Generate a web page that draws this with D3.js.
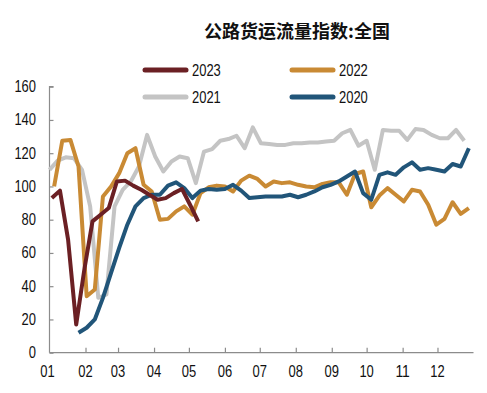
<!DOCTYPE html>
<html><head><meta charset="utf-8">
<script src="https://cdn.jsdelivr.net/npm/d3@7"></script>
<style>body{margin:0;background:#fff} svg{display:block}</style>
</head><body>
<svg id="c" width="487" height="393"></svg>
<script>
const title = "公路货运流量指数:全国";
const monthLabels = ["01","02","03","04","05","06","07","08","09","10","11","12"];
const yTicks = [0,20,40,60,80,100,120,140,160];
const seriesNames = ["2023","2022","2021","2020"];
const seriesColors = ["#6B2024","#C98A34","#C4C4C4","#215579"];
// first weekly observation (month-day) of each series
const seriesStarts = ["01-03","01-05","01-01","01-26"];
const values2023 = [93,97.5,68,17,50,79,83,87,103,103.5,100.5,98,95,92,93,96,98.5,89,79];
const values2022 = [100,127.5,128,112,34,38,94,100,108,120,123,101,97,80,80.5,85,88,83,96,99.5,100.5,100,97,103.5,106.5,104.5,100,103,102,102.5,101,100,99.5,101.5,102.5,102.5,95,107.5,109,87.5,94.5,99,95,91,98,97,89,77,80.5,90.5,83.5,87];
const values2021 = [110,115.5,117.5,117,110,88,33,35,88,98,103,112,131,118,109,115,118,117,102,121,122.5,127.5,128.5,130.5,123,135.5,126,125.5,125,125,126,126,126.5,126.5,127,127.5,132,134,124.5,127.5,110,134,133.5,133.5,128,134.5,134,131,129,129,134,127.5];
const values2020 = [12,15,20,33,48,63,77,88,93,95,95,100.5,102.5,99,93,97.5,98.5,98,98.5,101,97.5,93,93.5,94,94,94,95,93.5,95,97,99.5,101,103,106,109,96,92,107,108.5,107,111.5,114.5,110,111,110,109,113.5,112,123];
const seriesValues = [values2023, values2022, values2021, values2020];

const svg = d3.select("#c");
const FONT = "'Liberation Sans',Arial,sans-serif";
const DIGIT = 7.2; // condensed digit width
const refYear = 2021;
const x = d3.scaleTime().domain([new Date(refYear,0,1), new Date(refYear+1,0,1)]).range([49.5, 473.5]);
const y = d3.scaleLinear().domain([0,160]).range([352.7, 86.7]);

function narrow(sel){
  sel.attr("textLength", d => String(d).length*DIGIT).attr("lengthAdjust","spacingAndGlyphs");
}

// title
svg.append("text").attr("x", 297).attr("y", 38).attr("text-anchor","middle")
  .attr("font-family","'Noto Sans CJK SC',sans-serif").attr("font-weight","bold")
  .attr("font-size",18).attr("fill","#111").text(title);

// legend
const legendPos = [[145,70],[292,70],[145,97],[292,97]];
seriesNames.forEach((n,i)=>{
  const [lx,ly] = legendPos[i];
  svg.append("line").attr("x1",lx).attr("x2",lx+41).attr("y1",ly).attr("y2",ly)
    .attr("stroke",seriesColors[i]).attr("stroke-width",5).attr("stroke-linecap","round");
  svg.append("text").datum(n).attr("x",lx+47).attr("y",ly+6).attr("font-family",FONT)
    .attr("font-size",16).attr("fill","#111").text(n).call(narrow);
});

// axes
const axisColor = "#8c8c8c";
const yAxis = svg.append("g").attr("transform","translate(49.5,0)")
  .call(d3.axisRight(y).tickValues(yTicks).tickSize(4).tickFormat(""));
yAxis.selectAll("path,line").attr("stroke",axisColor).attr("stroke-width",1.2);
yAxis.select(".domain").attr("d", `M4,${y(160)}H0V${y(0)}`);
svg.append("g").selectAll("text").data(yTicks).join("text")
  .attr("x",36).attr("y",d=>y(d)+5.5).attr("text-anchor","end")
  .attr("font-family",FONT).attr("font-size",16).attr("fill","#111").text(d=>d).call(narrow);

const monthDates = monthLabels.map((m,i)=>new Date(refYear,i,1));
const xAxis = svg.append("g").attr("transform",`translate(0,${y(0)})`)
  .call(d3.axisTop(x).tickValues(monthDates.slice(1)).tickSize(5).tickFormat(""));
xAxis.selectAll("path,line").attr("stroke",axisColor).attr("stroke-width",1.2);
xAxis.select(".domain").attr("d", `M49.5,0H473.5`);
svg.append("g").selectAll("text").data(monthLabels).join("text")
  .attr("x",(d,i)=>x(monthDates[i]) - (i===0?2:0)).attr("y",377).attr("text-anchor","middle")
  .attr("font-family",FONT).attr("font-size",16).attr("fill","#111").text(d=>d).call(narrow);

// lines
const line = d3.line().x(d=>x(d.date)).y(d=>y(d.v));
const drawOrder = [2,1,3,0];
drawOrder.forEach(i=>{
  const [m,dd] = seriesStarts[i].split("-").map(Number);
  const start = new Date(refYear, m-1, dd);
  const pts = seriesValues[i].map((v,k)=>({date: d3.timeDay.offset(start, 7*k), v}));
  svg.append("path").datum(pts).attr("d",line).attr("fill","none")
    .attr("stroke",seriesColors[i]).attr("stroke-width",4)
    .attr("stroke-linejoin","round").attr("stroke-linecap","butt");
});
</script>
</body></html>
